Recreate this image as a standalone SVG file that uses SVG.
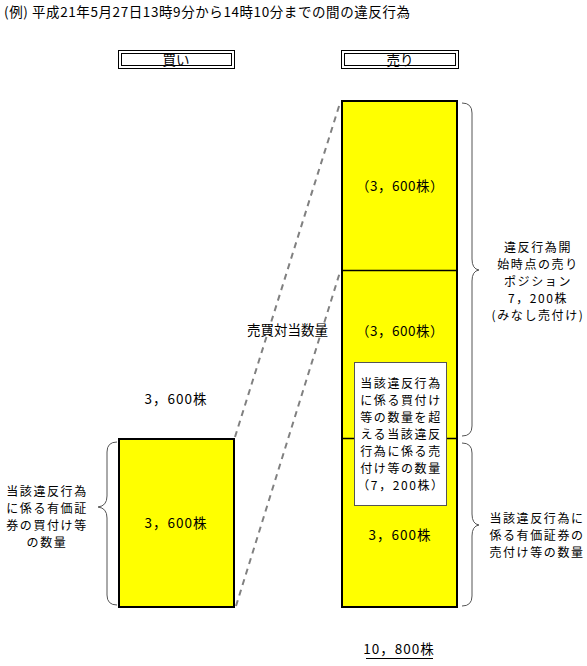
<svg xmlns="http://www.w3.org/2000/svg" width="587" height="666" viewBox="0 0 587 666">
<style>
text{font-family:"Noto Sans CJK JP","Liberation Sans",sans-serif;font-size:13.5px;fill:#000}
.c{text-anchor:middle}
.m{font-size:12px;letter-spacing:1.6px}
.bar{fill:#ffff00;stroke:#000;stroke-width:2}
.brace{fill:none;stroke:#555;stroke-width:1}
.dash{stroke:#808080;stroke-width:2;stroke-dasharray:6,5;fill:none}
</style>
<rect width="587" height="666" fill="#fff"/>
<text x="4" y="17" textLength="406" lengthAdjust="spacing">(例) 平成21年5月27日13時9分から14時10分までの間の違反行為</text>
<g id="hdr-buy">
<rect x="118.5" y="50.5" width="116" height="18" fill="#fff" stroke="#000" stroke-width="1"/>
<rect x="121.5" y="53.5" width="110" height="12" fill="none" stroke="#000" stroke-width="1"/>
<text class="c" x="176" y="64.5">買い</text>
</g>
<g id="hdr-sell">
<rect x="341.5" y="50.5" width="117" height="18" fill="#fff" stroke="#000" stroke-width="1"/>
<rect x="344.5" y="53.5" width="111" height="12" fill="none" stroke="#000" stroke-width="1"/>
<text class="c" x="400" y="64.5">売り</text>
</g>
<g id="connectors">
<line class="dash" x1="235" y1="437" x2="340" y2="103"/>
<line class="dash" x1="236" y1="606" x2="340" y2="272"/>
</g>
<g id="buy">
<rect class="bar" x="119" y="439" width="115" height="168"/>
<text class="c" x="176" y="528" letter-spacing="1">3，600株</text>
<text class="c" x="176" y="404" letter-spacing="1">3，600株</text>
</g>
<g id="sell">
<rect class="bar" x="342" y="101" width="115" height="506"/>
<line x1="342" y1="270.5" x2="457" y2="270.5" stroke="#000" stroke-width="1.5"/>
<line x1="342" y1="438.5" x2="457" y2="438.5" stroke="#000" stroke-width="1.5"/>
<text class="c" x="400" y="191" letter-spacing="0.5">（3，600株）</text>
<text class="c" x="400" y="336" letter-spacing="0.5">（3，600株）</text>
<text class="c" x="400" y="540" letter-spacing="1">3，600株</text>
</g>
<g id="note">
<rect x="354.5" y="362.5" width="92" height="143" fill="#fff" stroke="#555" stroke-width="1"/>
<text class="c m" x="401" y="388">当該違反行為</text>
<text class="c m" x="401" y="405">に係る買付け</text>
<text class="c m" x="401" y="422">等の数量を超</text>
<text class="c m" x="401" y="439">える当該違反</text>
<text class="c m" x="401" y="456">行為に係る売</text>
<text class="c m" x="401" y="473">付け等の数量</text>
<text class="c m" x="401" y="490">（7，200株）</text>
</g>
<g id="match-label">
<text x="247" y="335">売買対当数量</text>
</g>
<g id="left-brace">
<path class="brace" d="M117,442 Q107,442 107,452 L107,496 Q107,506 98,507 Q107,508 107,518 L107,595 Q107,605 117,605"/>
<text class="c m" x="47" y="496">当該違反行為</text>
<text class="c m" x="47" y="513">に係る有価証</text>
<text class="c m" x="47" y="530">券の買付け等</text>
<text class="c m" x="47" y="547">の数量</text>
</g>
<g id="right-brace-top">
<path class="brace" d="M462,103 Q472,103 472,113 L472,259 Q472,269 479,270 Q472,271 472,281 L472,426 Q472,436 462,436"/>
<text class="c m" x="538" y="252">違反行為開</text>
<text class="c m" x="538" y="269">始時点の売り</text>
<text class="c m" x="538" y="286">ポジション</text>
<text class="c m" x="538" y="303">7，200株</text>
<text class="c m" x="538" y="320">(みなし売付け)</text>
</g>
<g id="right-brace-bottom">
<path class="brace" d="M462,443 Q472,443 472,453 L472,514 Q472,524 479,525 Q472,526 472,536 L472,596 Q472,606 462,606"/>
<text class="c m" x="537" y="523">当該違反行為に</text>
<text class="c m" x="537" y="540">係る有価証券の</text>
<text class="c m" x="537" y="557">売付け等の数量</text>
</g>
<g id="total">
<text class="c" x="399" y="654" letter-spacing="1">10，800株</text>
<line x1="366" y1="658.5" x2="433" y2="658.5" stroke="#000" stroke-width="1"/>
</g>
</svg>
